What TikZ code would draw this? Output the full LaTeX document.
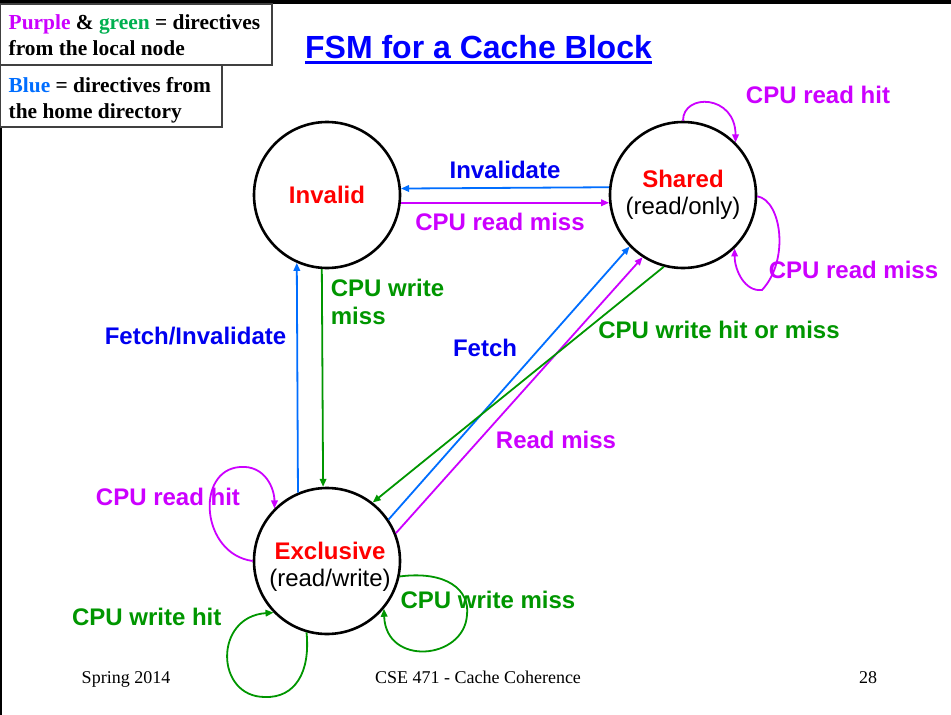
\documentclass[tikz,border=0pt]{standalone}
\usepackage{fontspec}
\setmainfont{Liberation Sans}
\newfontfamily\tms{Liberation Serif}
\usetikzlibrary{arrows.meta}
\definecolor{lblue}{RGB}{0,0,240}
\definecolor{lnblue}{RGB}{0,110,255}
\definecolor{ppl}{RGB}{204,0,255}
\definecolor{grn}{RGB}{0,150,0}
\definecolor{lgrn}{RGB}{0,176,80}
\definecolor{rd}{RGB}{255,0,0}
\tikzset{
  st/.style={circle, draw=black, line width=2.6pt, minimum size=146pt, inner sep=0pt, align=center, font=\fontsize{24}{27}\selectfont},
  lab/.style={font=\bfseries\fontsize{24}{27}\selectfont, inner sep=0pt, anchor=base},
  conn/.style={line width=1.8pt, -{Triangle[length=8pt,width=6.5pt]}},
  bl/.style={conn, draw=lnblue},
  pu/.style={conn, draw=ppl},
  gr/.style={conn, draw=grn},
  legbox/.style={draw=black!75, line width=1.5pt, fill=white},
  legtxt/.style={font=\tms\bfseries\fontsize{21.4}{26}\selectfont, inner sep=0pt, anchor=base west},
  foot/.style={font=\tms\fontsize{18}{22}\selectfont, inner sep=0pt, anchor=base}
}
\begin{document}
\begin{tikzpicture}[x=1pt,y=-1pt]
\useasboundingbox (0,0) rectangle (951,715);
\fill[white] (0,0) rectangle (951,715);
% frame
\draw[line width=4pt] (0,2) -- (951,2);
\draw[line width=2.5pt] (1,0) -- (1,715);
% legend
\draw[legbox] (0,4) rectangle (272,65);
\draw[legbox] (0,65) rectangle (222,127);
\node[legtxt] (l1) at (8.5,29) {\textcolor{ppl}{Purple} \& \textcolor{lgrn}{green} = directives};
\node[legtxt] (l2) at (8.5,55) {from the local node};
\node[legtxt] (l3) at (8.5,92) {\textcolor{lnblue}{Blue} = directives from};
\node[legtxt] (l4) at (8.5,118) {the home directory};
% title
\node[font=\bfseries\fontsize{32}{36}\selectfont, text=blue, inner sep=0pt, anchor=base] (title) at (478.5,58) {FSM for a Cache Block};
\draw[blue, line width=3pt] ([yshift=-4pt]title.base west) -- ([yshift=-4pt]title.base east);
% states
\node[st] (inv) at (327,195) {\textcolor{rd}{\bfseries Invalid}};
\node[st] (sh) at (683,195) {\textcolor{rd}{\bfseries Shared}\\(read/only)};
\node[st] (ex) at (327,561) {};
\node[align=center, inner sep=0pt, font=\fontsize{24}{27}\selectfont] (extxt) at ([shift={(3,6)}]ex.center) {\textcolor{rd}{\bfseries Exclusive}\\(read/write)};
% transitions
\draw[bl] (sh.174.5) -- (inv.5.5);
\draw[pu] (inv.-6.3) -- (sh.186.3);
\draw[bl] (ex.113.4) -- (inv.246.6);
\draw[gr] (inv.266.9) -- (ex.93.1);
\draw[bl] (ex.34.3) -- (sh.224.4);
\draw[pu] (ex.22) -- (sh.237);
\draw[gr] (sh.255) -- (ex.52.7);
% self loops
\draw[pu] (sh.90) .. controls +(0,-28) and +(0,-48) .. (sh.45);
\draw[pu] (sh.-1) .. controls +(24,4) and +(28,-30) .. (762,290) .. controls +(-17,2) and +(0,22) .. (sh.-46);
\draw[pu] (ex.180) .. controls +(-52,-7) and +(-45,3) .. (240,467) .. controls +(25,-2) and +(0,-20) .. (ex.135);
\draw[gr] (ex.-106) .. controls +(4,40) and +(30,1) .. (265,697) .. controls +(-50,0) and +(-60,4) .. (ex.-136);
\draw[gr] (ex.-12) .. controls +(47,-6) and +(3,-25) .. (467,615) .. controls +(-3,45) and +(2,58) .. (ex.-40);
% labels
\node[lab, text=lblue] (t1) at (505,178.3) {Invalidate};
\node[lab, text=ppl] (t2) at (500,230) {CPU read miss};
\node[lab, text=lblue] (t3) at (195.5,344.5) {Fetch/Invalidate};
\node[font=\bfseries\fontsize{24}{28}\selectfont, inner sep=0pt, anchor=north west, align=left, text=grn] (t4) at (330.7,279) {CPU write\\miss};
\node[lab, text=lblue] (t5) at (485,356.7) {Fetch};
\node[lab, text=grn] (t6) at (719,338) {CPU write hit or miss};
\node[lab, text=ppl] (t7) at (556,448) {Read miss};
\node[lab, text=ppl] (t8) at (818,103.3) {CPU read hit};
\node[lab, text=ppl] (t9) at (853.5,278.3) {CPU read miss};
\node[lab, text=ppl] (t10) at (168,505) {CPU read hit};
\node[lab, text=grn] (t11) at (146.7,625) {CPU write hit};
\node[lab, text=grn] (t12) at (488,608.3) {CPU write miss};
% footer
\node[foot] (f1) at (126,683) {Spring 2014};
\node[foot] (f2) at (478,683) {CSE 471 - Cache Coherence};
\node[foot] (f3) at (868,683) {28};
\end{tikzpicture}
\end{document}
